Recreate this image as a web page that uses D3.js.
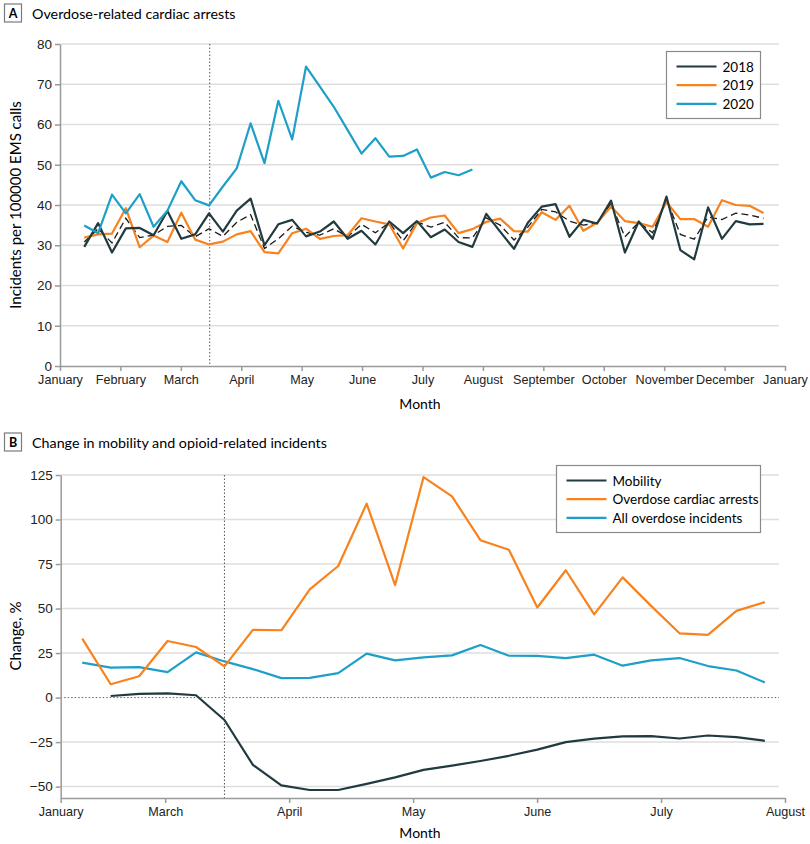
<!DOCTYPE html>
<html>
<head>
<meta charset="utf-8">
<script src="https://cdn.jsdelivr.net/npm/d3@7"></script>
<style>
body { margin: 0; background: #fff; }
svg { font-family: Lato, "Noto Sans", sans-serif; color: #222; }
.axis path, .axis line { stroke: #9a9a9a; stroke-width: 1.5; }
.axis text { font-size: 13.5px; fill: #222; }
.axis.x text { font-size: 12.6px; }
</style>
</head>
<body>
<div class="main"></div>
<script>
// Panel A: weekly overdose-related cardiac arrests per 100000 EMS calls
var monthsA = ["January", "February", "March", "April", "May", "June", "July",
    "August", "September", "October", "November", "December", "January"];
var ticksA = [0, 10, 20, 30, 40, 50, 60, 70, 80];
var firstWeekA = 1.75;
var arrests2018 = [29.6, 35.5, 28.2, 34.2, 34.3, 32.5, 38.5, 31.6, 32.7, 37.9,
    33.4, 38.6, 41.6, 30.0, 35.2, 36.3, 32.2, 33.4, 35.9, 31.6,
    33.6, 30.2, 35.9, 33.0, 36.0, 32.0, 33.9, 30.8, 29.6, 37.8,
    33.4, 29.1, 35.6, 39.6, 40.2, 32.1, 36.3, 35.4, 41.1, 28.2,
    35.9, 31.6, 42.1, 28.8, 26.5, 39.4, 31.6, 36.0, 35.2, 35.3];
var arrests2019 = [31.9, 32.7, 32.9, 39.2, 29.5, 32.4, 30.8, 38.1, 31.4, 30.2,
    30.9, 32.7, 33.5, 28.3, 28.0, 33.0, 34.1, 31.6, 32.3, 32.5,
    36.7, 35.9, 35.2, 29.2, 35.5, 36.9, 37.4, 33.0, 34.0, 35.8,
    36.6, 33.5, 33.4, 38.2, 36.3, 39.8, 33.6, 35.6, 39.6, 36.0,
    35.5, 34.6, 40.7, 36.5, 36.5, 34.6, 41.2, 40.0, 39.8, 38.0];
var arrests2020 = [34.9, 33.0, 42.6, 37.9, 42.7, 34.6, 38.6, 45.9, 41.2, 39.9,
    44.6, 49.1, 60.3, 50.4, 65.9, 56.3, 74.4, 69.4, 64.4, 58.6,
    52.8, 56.6, 52.0, 52.2, 53.8, 46.8, 48.2, 47.4, 48.8];
// 2018-2019 average (dashed)
var arrestsBaseline = [30.8, 34.1, 30.6, 36.7, 31.9, 32.5, 34.7, 34.9, 32.1, 34.1,
    32.2, 35.7, 37.6, 29.2, 31.6, 34.7, 33.2, 32.5, 34.1, 32.1,
    35.2, 33.1, 35.6, 31.1, 35.8, 34.5, 35.7, 31.9, 31.8, 36.8,
    35.0, 31.3, 34.5, 38.9, 38.3, 36.0, 35.0, 35.5, 40.4, 32.1,
    35.7, 33.1, 41.4, 32.7, 31.5, 37.0, 36.4, 38.0, 37.5, 36.7];

// Panel B: % change in 2020 vs previous years
var monthsB = ["January", "March", "April", "May", "June", "July", "August"];
var monthIdxB = [1.157, 2, 3, 4, 5, 6, 7];
var ticksB = [-50, -25, 0, 25, 50, 75, 100, 125];
var firstWeekB = 5.8;
var mobility = [null, 0.9, 2.1, 2.4, 1.3, -12.6, -37.8, -49.3, -51.9, -51.9,
    -48.5, -44.8, -40.6, -38.2, -35.6, -32.7, -29.2, -25.0, -23.1, -21.8,
    -21.6, -23.0, -21.3, -22.2, -24.3];
var overdoseArrests = [33.1, 7.5, 12.0, 31.8, 28.4, 17.5, 38.0, 37.8, 60.8, 73.9,
    108.9, 63.2, 123.8, 113.0, 88.4, 83.0, 50.6, 71.5, 46.7, 67.5,
    51.5, 36.1, 35.2, 48.7, 53.6];
var allOverdose = [19.6, 16.8, 17.1, 14.3, 25.4, 20.3, 16.0, 10.9, 11.1, 13.7,
    24.7, 20.9, 22.6, 23.7, 29.5, 23.5, 23.4, 22.2, 24.1, 17.9,
    20.9, 22.2, 17.7, 15.2, 8.5];

var emergencyWeek = 10.8;
var weeksPerMonth = 52.3 / 12;

var dark = "#213a3f", orange = "#f7821e", blue = "#1e9fc8";

var svg = d3.select(".main").append("svg")
    .attr("width", 810)
    .attr("height", 844);

function panelTitle(y, letter, label) {
    var g = svg.append("g");
    g.append("rect")
        .attr("x", 4.5).attr("y", y - 9)
        .attr("width", 17).attr("height", 18)
        .attr("fill", "#fff").attr("stroke", "#7a7a7a").attr("stroke-width", 1.2);
    g.append("text")
        .attr("x", 13).attr("y", y + 4.5)
        .attr("text-anchor", "middle")
        .attr("font-size", 12.5).attr("font-weight", "bold")
        .text(letter);
    g.append("text")
        .attr("x", 32).attr("y", y + 5.5)
        .attr("font-size", 14.3)
        .text(label);
}

function legend(x, y, w, h, items) {
    var g = svg.append("g");
    g.append("rect")
        .attr("x", x).attr("y", y).attr("width", w).attr("height", h)
        .attr("fill", "#fff").attr("stroke", "#8a8a8a").attr("stroke-width", 1.2);
    items.forEach(function(d, i) {
        var cy = y + 15 + i * 18.7;
        g.append("line")
            .attr("x1", x + 10).attr("x2", x + 50)
            .attr("y1", cy).attr("y2", cy)
            .attr("stroke", d.color).attr("stroke-width", 2.2);
        g.append("text")
            .attr("x", x + 56).attr("y", cy + 5)
            .attr("font-size", 13.5)
            .text(d.label);
    });
}

// ---------- Panel A ----------
var xA = d3.scaleLinear().domain([0, 52.3]).range([60, 785]);
var yA = d3.scaleLinear().domain([0, 80]).range([366, 44]);

panelTitle(13, "A", "Overdose-related cardiac arrests");

svg.append("g").selectAll("line")
    .data(ticksA.filter(function(d) { return d > 0; }))
    .join("line")
    .attr("x1", 60).attr("x2", 779)
    .attr("y1", function(d) { return yA(d); })
    .attr("y2", function(d) { return yA(d); })
    .attr("stroke", "#dedede").attr("stroke-width", 1.5);

svg.append("line")
    .attr("x1", xA(emergencyWeek)).attr("x2", xA(emergencyWeek))
    .attr("y1", 44).attr("y2", 366)
    .attr("stroke", "#555").attr("stroke-width", 1)
    .attr("stroke-dasharray", "1.5,2");

svg.append("g")
    .attr("class", "axis")
    .attr("transform", "translate(60,0)")
    .call(d3.axisLeft(yA).tickValues(ticksA).tickSize(5).tickSizeOuter(0))
    .call(function(g) { g.selectAll("text").attr("x", -8); });

svg.append("g")
    .attr("class", "axis x")
    .attr("transform", "translate(0,366)")
    .call(d3.axisBottom(xA)
        .tickValues(d3.range(13).map(function(m) { return m * weeksPerMonth; }))
        .tickFormat(function(d, i) { return monthsA[i]; })
        .tickSize(5).tickSizeOuter(0))
    .call(function(g) { g.selectAll("text").attr("y", 9); });

svg.append("text")
    .attr("x", 420).attr("y", 409)
    .attr("text-anchor", "middle").attr("font-size", 14)
    .text("Month");

svg.append("text")
    .attr("transform", "translate(21,205) rotate(-90)")
    .attr("text-anchor", "middle").attr("font-size", 15)
    .text("Incidents per 100000 EMS calls");

var lineA = d3.line()
    .x(function(d, i) { return xA(firstWeekA + i); })
    .y(function(d) { return yA(d); });

svg.append("path").datum(arrestsBaseline)
    .attr("d", lineA).attr("fill", "none")
    .attr("stroke", "#1a1a1a").attr("stroke-width", 1.3)
    .attr("stroke-dasharray", "7,4");
svg.append("path").datum(arrests2019)
    .attr("d", lineA).attr("fill", "none")
    .attr("stroke", orange).attr("stroke-width", 2.2).attr("stroke-linejoin", "round");
svg.append("path").datum(arrests2018)
    .attr("d", lineA).attr("fill", "none")
    .attr("stroke", dark).attr("stroke-width", 2.2).attr("stroke-linejoin", "round");
svg.append("path").datum(arrests2020)
    .attr("d", lineA).attr("fill", "none")
    .attr("stroke", blue).attr("stroke-width", 2.2).attr("stroke-linejoin", "round");

legend(666.5, 51.5, 94, 67, [
    {label: "2018", color: dark},
    {label: "2019", color: orange},
    {label: "2020", color: blue}
]);

// ---------- Panel B ----------
var xB = d3.scaleLinear().domain([1.157 * weeksPerMonth, 7 * weeksPerMonth]).range([60.7, 785]);
var yB = d3.scaleLinear().domain([-56.4, 125]).range([798, 475]);

panelTitle(442, "B", "Change in mobility and opioid-related incidents");

svg.append("g").selectAll("line")
    .data(ticksB)
    .join("line")
    .attr("x1", 60.7).attr("x2", 779)
    .attr("y1", function(d) { return yB(d); })
    .attr("y2", function(d) { return yB(d); })
    .attr("stroke", function(d) { return d === 0 ? "#666" : "#dedede"; })
    .attr("stroke-width", function(d) { return d === 0 ? 1 : 1.5; })
    .attr("stroke-dasharray", function(d) { return d === 0 ? "1.5,2" : null; });

svg.append("line")
    .attr("x1", xB(emergencyWeek)).attr("x2", xB(emergencyWeek))
    .attr("y1", 475).attr("y2", 798)
    .attr("stroke", "#555").attr("stroke-width", 1)
    .attr("stroke-dasharray", "1.5,2");

svg.append("g")
    .attr("class", "axis")
    .attr("transform", "translate(60.7,0)")
    .call(d3.axisLeft(yB).tickValues(ticksB).tickSize(5).tickSizeOuter(0)
        .tickFormat(d3.format("d")))
    .call(function(g) { g.selectAll("text").attr("x", -8); });

svg.append("g")
    .attr("class", "axis x")
    .attr("transform", "translate(0,798)")
    .call(d3.axisBottom(xB)
        .tickValues(monthIdxB.map(function(m) { return m * weeksPerMonth; }))
        .tickFormat(function(d, i) { return monthsB[i]; })
        .tickSize(5).tickSizeOuter(0))
    .call(function(g) { g.selectAll("text").attr("y", 9).attr("font-size", 13.5); });

svg.append("text")
    .attr("x", 420).attr("y", 838)
    .attr("text-anchor", "middle").attr("font-size", 14)
    .text("Month");

svg.append("text")
    .attr("transform", "translate(21,636) rotate(-90)")
    .attr("text-anchor", "middle").attr("font-size", 15)
    .text("Change, %");

var lineB = d3.line()
    .defined(function(d) { return d !== null; })
    .x(function(d, i) { return xB(firstWeekB + i); })
    .y(function(d) { return yB(d); });

svg.append("path").datum(allOverdose)
    .attr("d", lineB).attr("fill", "none")
    .attr("stroke", blue).attr("stroke-width", 2.2).attr("stroke-linejoin", "round");
svg.append("path").datum(overdoseArrests)
    .attr("d", lineB).attr("fill", "none")
    .attr("stroke", orange).attr("stroke-width", 2.2).attr("stroke-linejoin", "round");
svg.append("path").datum(mobility)
    .attr("d", lineB).attr("fill", "none")
    .attr("stroke", dark).attr("stroke-width", 2.2).attr("stroke-linejoin", "round");

legend(556.5, 465.5, 204, 67, [
    {label: "Mobility", color: dark},
    {label: "Overdose cardiac arrests", color: orange},
    {label: "All overdose incidents", color: blue}
]);
</script>
</body>
</html>
